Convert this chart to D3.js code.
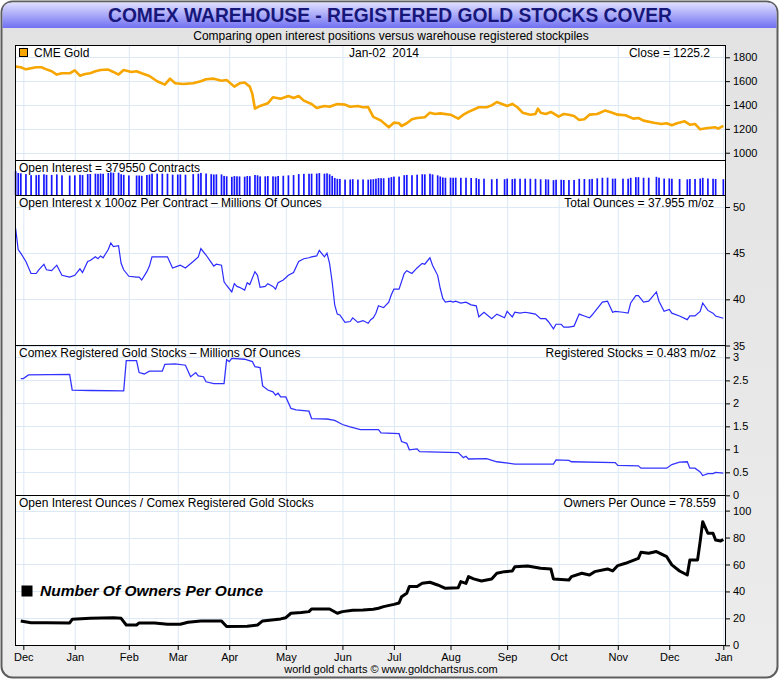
<!DOCTYPE html>
<meta charset="utf-8">
<style>
body { margin: 0; background: #fff; }
svg text { font-family: "Liberation Sans", Arial, sans-serif; }
.grid line { stroke: #dce8f5; stroke-width: 1; }
.lbl { font-size: 12px; fill: #000; white-space: pre; }
.ytick text { font-size: 11px; }
</style>
<svg width="780" height="680"></svg>
<script src="https://d3js.org/d3.v7.min.js"></script>
<script>

// trading days counted from Nov-28-2012 (day 0) to Jan-02-2014 (day 275)
const monthTickDays = [3, 23, 44, 63, 83, 105, 127, 147, 169, 191, 211, 234, 254, 275];
const monthLabels = ["Dec", "Jan", "Feb", "Mar", "Apr", "May", "Jun", "Jul", "Aug", "Sep", "Oct", "Nov", "Dec", "Jan"];

// [trading day, value]
const goldClose = [
  [0,1722],[2,1716],[4,1699],[6,1708],[8,1716],[10,1716],[12,1699],[14,1683],[16,1655],[18,1666],
  [21,1666],[23,1691],[25,1646],[27,1660],[29,1666],[31,1683],[33,1694],[36,1697],[38,1677],[40,1655],
  [42,1694],[45,1677],[47,1683],[49,1666],[52,1643],[55,1599],[58,1571],[60,1621],[62,1582],[65,1576],
  [69,1582],[72,1599],[74,1616],[77,1621],[80,1604],[82,1610],[85,1554],[87,1582],[89,1588],[91,1554],
  [92,1493],[93,1370],[95,1392],[98,1414],[100,1465],[103,1453],[106,1476],[108,1459],[110,1476],[112,1437],
  [115,1409],[117,1375],[120,1392],[122,1386],[125,1409],[128,1403],[130,1386],[133,1392],[135,1381],[137,1383],
  [139,1300],[142,1269],[145,1213],[147,1252],[149,1247],[150,1224],[152,1247],[154,1280],[156,1291],[159,1297],
  [161,1336],[163,1325],[165,1330],[169,1319],[172,1286],[174,1319],[176,1342],[180,1381],[183,1381],[185,1397],
  [187,1425],[189,1409],[191,1392],[193,1409],[195,1381],[197,1336],[200,1319],[202,1325],[203,1370],[204,1336],
  [206,1325],[208,1342],[209,1330],[211,1302],[213,1325],[215,1319],[217,1308],[219,1275],[221,1280],[223,1319],
  [226,1325],[229,1353],[231,1342],[234,1319],[237,1314],[240,1286],[242,1291],[244,1269],[248,1252],[251,1241],
  [253,1247],[255,1230],[257,1247],[260,1263],[262,1235],[264,1241],[266,1196],[269,1207],[272,1213],[273,1202],
  [275,1225.2]
];

// open interest x 100oz, millions of ounces
const oiOunces = [
  [0,47.7],[1,45.4],[2,45.0],[4,44.1],[6,42.8],[8,42.8],[9,43.2],[11,43.8],[12,43.2],[14,43.1],
  [16,43.7],[18,42.6],[21,42.4],[23,42.6],[25,43.3],[26,42.9],[28,44.1],[29,44.2],[31,44.6],[32,44.4],
  [33,44.7],[34,44.5],[36,45.4],[37,46.1],[38,45.7],[40,45.8],[41,43.9],[42,43.2],[44,42.5],[47,42.4],
  [48,42.4],[49,42.1],[51,43.0],[52,43.6],[53,44.6],[55,44.6],[57,44.6],[59,44.6],[61,43.4],[63,43.6],
  [64,43.7],[66,43.4],[69,44.1],[71,44.6],[72,45.5],[74,44.8],[76,44.0],[77,43.6],[78,43.8],[80,43.7],
  [81,41.9],[82,41.5],[84,40.8],[85,41.7],[86,41.4],[87,41.3],[89,41.0],[90,41.8],[91,41.6],[93,43.0],
  [94,42.6],[95,41.3],[97,41.4],[98,41.7],[100,41.4],[101,41.1],[102,41.8],[104,42.1],[106,42.6],[108,42.9],
  [110,44.1],[112,44.4],[114,44.5],[115,44.6],[117,44.7],[118,45.3],[120,44.6],[121,45.0],[122,43.9],[123,41.9],
  [124,39.4],[125,38.4],[126,38.3],[128,37.5],[130,37.6],[131,38.0],[133,37.5],[135,37.7],[137,37.4],[138,37.8],
  [139,38.0],[140,38.5],[141,39.3],[142,39.2],[143,39.1],[145,39.7],[146,40.5],[147,41.1],[149,41.1],[151,42.8],
  [152,43.1],[154,42.8],[156,43.4],[158,43.9],[159,43.8],[161,44.5],[162,43.7],[164,42.6],[165,41.2],[166,40.1],
  [167,39.7],[169,39.8],[170,39.7],[171,39.8],[173,39.6],[175,39.7],[177,39.4],[179,39.3],[180,38.1],[182,38.6],
  [185,37.9],[187,38.4],[190,38.0],[191,38.7],[193,38.1],[194,38.6],[196,38.5],[198,38.6],[200,38.5],[202,38.4],
  [204,37.9],[206,37.9],[207,37.6],[209,36.8],[210,37.3],[212,37.3],[213,37.0],[215,37.0],[217,37.1],[219,38.4],
  [221,38.2],[223,38.0],[224,38.3],[226,39.0],[228,39.7],[230,39.8],[232,38.6],[233,38.7],[236,38.6],[238,38.5],
  [239,39.6],[241,40.4],[242,40.4],[244,39.7],[246,39.8],[249,40.8],[250,39.8],[252,38.7],[254,38.9],[255,38.5],
  [258,38.2],[261,37.8],[262,38.2],[264,38.2],[266,38.7],[267,39.6],[269,38.8],[271,38.5],[272,38.2],[275,37.955]
];

// comex registered gold stocks, millions of ounces
const registeredStocks = [
  [2,2.54],[3,2.54],[5,2.62],[21,2.63],[22,2.29],[29,2.28],[42,2.27],[43,2.93],[47,2.93],[48,2.67],
  [50,2.64],[52,2.70],[57,2.70],[58,2.85],[62,2.86],[66,2.83],[68,2.58],[70,2.67],[71,2.60],[73,2.58],
  [74,2.47],[77,2.43],[81,2.43],[82,2.95],[83,2.91],[84,2.98],[89,2.96],[92,2.91],[93,2.80],[95,2.78],
  [96,2.38],[98,2.29],[100,2.25],[101,2.18],[102,2.22],[103,2.14],[105,2.14],[107,1.89],[109,1.86],[114,1.83],
  [115,1.67],[121,1.66],[124,1.63],[127,1.54],[130,1.49],[134,1.43],[141,1.43],[142,1.36],[149,1.34],[150,1.17],
  [152,1.13],[153,0.99],[156,1.01],[157,0.95],[172,0.93],[174,0.82],[175,0.85],[176,0.79],[183,0.80],[187,0.73],
  [194,0.68],[209,0.68],[210,0.77],[215,0.76],[216,0.73],[233,0.71],[234,0.65],[242,0.64],[243,0.59],[253,0.59],
  [255,0.67],[258,0.72],[261,0.73],[262,0.59],[264,0.59],[266,0.51],[267,0.43],[269,0.47],[271,0.47],[272,0.50],
  [275,0.483]
];

// open interest ounces / registered stocks
const ownersPerOunce = [
  [2,18.1],[6,16.8],[12,16.8],[21,16.6],[22,19.3],[29,20.0],[38,20.5],[41,20.0],[43,15.1],[47,15.1],
  [48,16.6],[54,16.6],[59,15.6],[64,15.6],[67,17.1],[72,18.1],[80,18.1],[82,13.9],[90,14.1],[94,15.1],
  [96,18.1],[103,19.6],[105,20.5],[107,23.8],[111,24.3],[114,25.0],[115,27.0],[122,27.0],[125,23.8],[127,25.0],
  [131,26.0],[135,26.2],[139,26.7],[141,27.5],[143,28.7],[147,30.4],[149,31.4],[150,36.1],[152,38.6],[153,43.6],
  [156,43.6],[158,46.0],[161,46.8],[164,44.8],[167,42.3],[172,42.8],[173,47.3],[175,46.0],[176,51.0],[178,49.3],
  [181,47.8],[185,49.3],[187,53.5],[190,54.7],[193,55.2],[194,58.4],[199,58.9],[204,57.2],[208,56.7],[209,49.3],
  [215,48.5],[216,51.0],[220,53.5],[223,52.2],[225,54.7],[230,56.7],[232,55.2],[234,59.2],[237,60.9],[242,64.6],
  [243,69.1],[246,68.3],[249,69.6],[253,65.8],[255,59.7],[258,55.2],[261,52.2],[262,63.4],[265,63.4],[266,77.0],
  [267,91.8],[269,83.2],[271,83.2],[272,78.2],[274,77.5],[275,78.559]
];

const goldTicks = [1000, 1200, 1400, 1600, 1800];
const oiTicks = [35, 40, 45, 50];
const regTicks = [0, 0.5, 1, 1.5, 2, 2.5, 3];
const ownerTicks = [0, 20, 40, 60, 80, 100];

const svg = d3.select("svg"),
    left = 15, right = 725;

const defs = svg.append("defs");
const frameGrad = defs.append("linearGradient").attr("id", "frameGrad").attr("x1", 0).attr("y1", 0).attr("x2", 0).attr("y2", 1);
frameGrad.append("stop").attr("offset", "0%").attr("stop-color", "#e2e2e2");
frameGrad.append("stop").attr("offset", "100%").attr("stop-color", "#ececec");
const titleGrad = defs.append("linearGradient").attr("id", "titleGrad").attr("x1", 0).attr("y1", 0).attr("x2", 0).attr("y2", 1);
titleGrad.append("stop").attr("offset", "0%").attr("stop-color", "#e0e0ff");
titleGrad.append("stop").attr("offset", "100%").attr("stop-color", "#7070f2");

// outer frame and title bar
svg.append("rect")
    .attr("x", 1.5).attr("y", 1.5).attr("width", 776).attr("height", 676).attr("rx", 11)
    .attr("fill", "url(#frameGrad)").attr("stroke", "#5e5e5e").attr("stroke-width", 2);
svg.append("path")
    .attr("d", "M2.5,28 L2.5,12 Q2.5,2.5 12,2.5 L767,2.5 Q776.5,2.5 776.5,12 L776.5,28 Z")
    .attr("fill", "url(#titleGrad)");

svg.append("text")
    .attr("x", 390).attr("y", 22)
    .attr("text-anchor", "middle")
    .attr("textLength", 564).attr("lengthAdjust", "spacingAndGlyphs")
    .style("font-size", "20px").style("font-weight", "bold").attr("fill", "#17177a")
    .text("COMEX WAREHOUSE - REGISTERED GOLD STOCKS COVER");

svg.append("text")
    .attr("class", "lbl")
    .attr("x", 391).attr("y", 40)
    .attr("text-anchor", "middle")
    .text("Comparing open interest positions versus warehouse registered stockpiles");

const xScale = d3.scaleLinear()
    .domain([0, 275])
    .range([15.6, 723.3]);

const panels = [
  {id: "gold", top: 45, bottom: 160, yScale: d3.scaleLinear().domain([939, 1903]).range([160, 45]), ticks: goldTicks},
  {id: "oi", top: 195, bottom: 345, yScale: d3.scaleLinear().domain([35, 51.3]).range([345.5, 195]), ticks: oiTicks},
  {id: "reg", top: 345, bottom: 495, yScale: d3.scaleLinear().domain([0, 3.27]).range([495.3, 345]), ticks: regTicks},
  {id: "own", top: 495, bottom: 645, yScale: d3.scaleLinear().domain([0, 111.6]).range([645.3, 495]), ticks: ownerTicks}
];
const byId = {};
panels.forEach(p => byId[p.id] = p);

// bar panel
const barTop = 160, barBottom = 195;
const barScale = d3.scaleLinear().domain([19, 61]).range([barBottom, barTop]);

// white plot backgrounds
svg.append("rect").attr("x", left).attr("y", 45).attr("width", right - left).attr("height", 600).attr("fill", "#fff");

panels.forEach(p => {
  svg.append("clipPath").attr("id", "clip-" + p.id)
    .append("rect").attr("x", left).attr("y", p.top).attr("width", right - left).attr("height", p.bottom - p.top);

  const grid = svg.append("g").attr("class", "grid");
  grid.selectAll(".vg").data(monthTickDays).enter().append("line")
      .attr("x1", d => xScale(d) + 0.5).attr("x2", d => xScale(d) + 0.5)
      .attr("y1", p.top).attr("y2", p.bottom);
  grid.selectAll(".hg").data(p.ticks).enter().append("line")
      .attr("x1", left).attr("x2", right)
      .attr("y1", d => Math.round(p.yScale(d)) + 0.5).attr("y2", d => Math.round(p.yScale(d)) + 0.5);

  const yAxis = svg.append("g")
      .attr("class", "ytick")
      .attr("transform", "translate(" + right + ",0)")
      .call(d3.axisRight(p.yScale).tickValues(p.ticks).tickSize(5).tickPadding(3).tickFormat(d3.format("")));
  yAxis.select(".domain").remove();
  yAxis.selectAll("text").style("font-family", "'Liberation Sans', Arial, sans-serif").style("font-size", "11px");
});

// gold line
svg.append("path")
    .datum(goldClose)
    .attr("clip-path", "url(#clip-gold)")
    .attr("fill", "none").attr("stroke", "#f7a600").attr("stroke-width", 2.6).attr("stroke-linejoin", "round")
    .attr("d", d3.line().x(d => xScale(d[0])).y(d => byId.gold.yScale(d[1])));

// open interest bars
svg.append("g").selectAll("rect").data(oiOunces).enter().append("rect")
    .attr("x", d => xScale(d[0]) - 0.8)
    .attr("width", 1.7)
    .attr("y", d => barScale(d[1]))
    .attr("height", d => barBottom - barScale(d[1]))
    .attr("fill", "#1717ff");

svg.append("path")
    .datum(oiOunces)
    .attr("clip-path", "url(#clip-oi)")
    .attr("fill", "none").attr("stroke", "#2b2bff").attr("stroke-width", 1.2)
    .attr("d", d3.line().x(d => xScale(d[0])).y(d => byId.oi.yScale(d[1])));

svg.append("path")
    .datum(registeredStocks)
    .attr("clip-path", "url(#clip-reg)")
    .attr("fill", "none").attr("stroke", "#3333ff").attr("stroke-width", 1.3)
    .attr("d", d3.line().x(d => xScale(d[0])).y(d => byId.reg.yScale(d[1])));

svg.append("path")
    .datum(ownersPerOunce)
    .attr("clip-path", "url(#clip-own)")
    .attr("fill", "none").attr("stroke", "#000").attr("stroke-width", 3).attr("stroke-linejoin", "round")
    .attr("d", d3.line().x(d => xScale(d[0])).y(d => byId.own.yScale(d[1])));

// panel borders
[[45, 160], [160, 195], [195, 345], [345, 495], [495, 645]].forEach(b => {
  svg.append("rect").attr("x", left + 0.5).attr("y", b[0] + 0.5)
      .attr("width", right - left).attr("height", b[1] - b[0])
      .attr("fill", "none").attr("stroke", "#000");
});

// x axis
const xAxis = svg.append("g")
    .attr("transform", "translate(0,645)")
    .call(d3.axisBottom(xScale).tickValues(monthTickDays).tickSize(5).tickPadding(3)
      .tickFormat((d, i) => monthLabels[i]));
xAxis.select(".domain").remove();
xAxis.selectAll("text").style("font-family", "'Liberation Sans', Arial, sans-serif").style("font-size", "11px");

// panel texts
const labels = [
  {x: 34, y: 57, a: "start", t: "CME Gold"},
  {x: 384, y: 57, a: "middle", t: "Jan-02  2014"},
  {x: 710, y: 57, a: "end", t: "Close = 1225.2"},
  {x: 19, y: 172, a: "start", t: "Open Interest = 379550 Contracts"},
  {x: 19, y: 207, a: "start", t: "Open Interest x 100oz Per Contract \u2013 Millions Of Ounces"},
  {x: 714, y: 207, a: "end", t: "Total Ounces = 37.955 m/oz"},
  {x: 19, y: 357, a: "start", t: "Comex Registered Gold Stocks \u2013 Millions Of Ounces"},
  {x: 716, y: 357, a: "end", t: "Registered Stocks = 0.483 m/oz"},
  {x: 19, y: 507, a: "start", t: "Open Interest Ounces / Comex Registered Gold Stocks"},
  {x: 716, y: 507, a: "end", t: "Owners Per Ounce = 78.559"}
];
svg.append("g").selectAll("text").data(labels).enter().append("text")
    .attr("class", "lbl")
    .attr("x", d => d.x).attr("y", d => d.y)
    .attr("text-anchor", d => d.a)
    .text(d => d.t);

svg.append("rect").attr("x", 19.5).attr("y", 48.5).attr("width", 8).attr("height", 8)
    .attr("fill", "#f7a600").attr("stroke", "#000");

// legend for the owners line
svg.append("rect").attr("x", 21.5).attr("y", 585.5).attr("width", 11).attr("height", 11).attr("fill", "#000");
svg.append("text")
    .attr("x", 40).attr("y", 596)
    .style("font-size", "15.5px").style("font-weight", "bold").style("font-style", "italic")
    .text("Number Of Owners Per Ounce");

svg.append("text")
    .attr("class", "lbl")
    .attr("x", 391).attr("y", 673)
    .attr("text-anchor", "middle")
    .style("font-size", "11px")
    .text("world gold charts \u00a9 www.goldchartsrus.com");

</script>
